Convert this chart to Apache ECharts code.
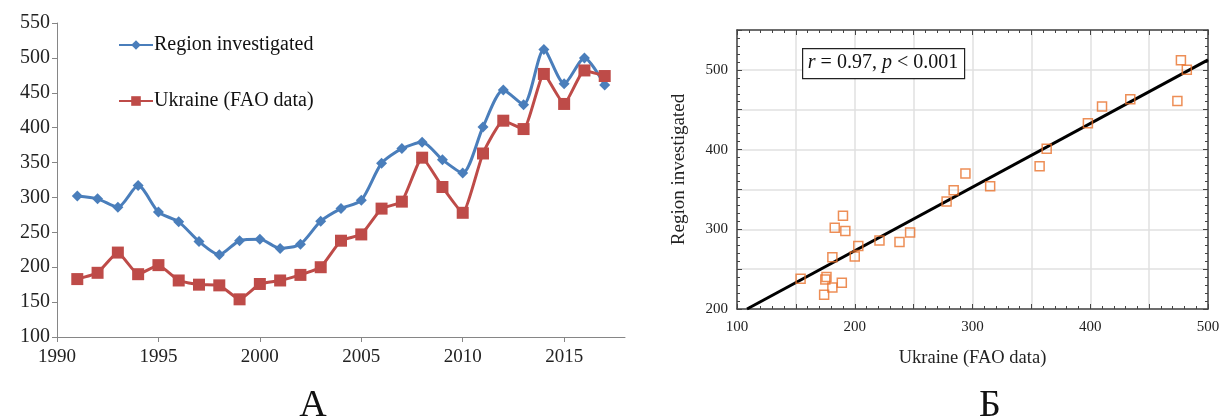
<!DOCTYPE html>
<html>
<head>
<meta charset="utf-8">
<script src="https://cdn.jsdelivr.net/npm/echarts@6/dist/echarts.min.js"></script>
<style>
  html, body { margin: 0; padding: 0; background: #fff; }
  #chart { width: 1229px; height: 419px; }
</style>
</head>
<body>
<div id="chart"></div>
<script>
// years on the left panel
const years = [1991, 1992, 1993, 1994, 1995, 1996, 1997, 1998, 1999, 2000,
  2001, 2002, 2003, 2004, 2005, 2006, 2007, 2008, 2009, 2010,
  2011, 2012, 2013, 2014, 2015, 2016, 2017];
// Region investigated
const regionVals = [302, 298, 286, 317, 279, 265, 237, 218, 238, 240,
  227, 233, 266, 284, 296, 349, 370, 379, 354, 335,
  401, 454, 433, 512, 463, 500, 461];
// Ukraine (FAO data)
const ukraineVals = [183, 192, 221, 190, 203, 181, 175, 174, 154, 176,
  181, 189, 200, 238, 247, 284, 294, 357, 315, 278,
  363, 410, 398, 477, 434, 482, 474];
const fitX = [108.5, 500];
const fitY = [200, 512.5];

const serif = '"Liberation Serif", "DejaVu Serif", serif';
const blue = '#4a7ebb';
const red = '#be4b48';

const linePairs = (xs, ys) => xs.map((x, i) => [x, ys[i]]);
const scatterPts = linePairs(ukraineVals, regionVals);

const chart = echarts.init(document.getElementById('chart'), null, { renderer: 'canvas' });

const option = {
  backgroundColor: '#fff',
  animation: false,
  legend: {
    data: ['Region investigated', 'Ukraine (FAO data)'],
    orient: 'vertical',
    left: 113,
    top: 30,
    itemWidth: 34,
    itemHeight: 12,
    itemGap: 36,
    textStyle: { fontFamily: serif, fontSize: 20, color: '#111', padding: [0, 0, 0, -4] }
  },
  grid: [
    { left: 57, right: 604, top: 23, bottom: 82 },
    { left: 737, right: 21, top: 30, bottom: 110 }
  ],
  xAxis: [
    {
      gridIndex: 0, type: 'value', min: 1990, max: 2018, interval: 5,
      axisLine: { lineStyle: { color: '#868686' } },
      axisTick: { show: true, length: 5, lineStyle: { color: '#868686' } },
      axisLabel: {
        fontFamily: serif, fontSize: 19, color: '#222', margin: 11, showMaxLabel: false,
        formatter: v => String(v)
      },
      splitLine: { show: false }
    },
    {
      gridIndex: 1, type: 'value', min: 100, max: 500, interval: 50,
      name: 'Ukraine (FAO data)', nameLocation: 'middle', nameGap: 40,
      nameTextStyle: { fontFamily: serif, fontSize: 18.5, color: '#222' },
      axisLine: { onZero: false, lineStyle: { color: '#444', width: 1.5 } },
      axisTick: { inside: true, length: 5, lineStyle: { color: '#444' } },
      minorTick: { show: true, splitNumber: 5, length: 3, lineStyle: { color: '#444' } },
      axisLabel: {
        fontFamily: serif, fontSize: 15, color: '#222', margin: 11,
        formatter: v => (v % 100 === 0 ? String(v) : '')
      },
      splitLine: { show: true, lineStyle: { color: '#e0e0e0', width: 1.5 } }
    },
    {
      gridIndex: 1, type: 'value', min: 100, max: 500, interval: 50, position: 'top',
      axisLine: { onZero: false, lineStyle: { color: '#444', width: 1.5 } },
      axisTick: { inside: true, length: 5, lineStyle: { color: '#444' } },
      minorTick: { show: true, splitNumber: 5, length: 3, lineStyle: { color: '#444' } },
      axisLabel: { show: false },
      splitLine: { show: false }
    }
  ],
  yAxis: [
    {
      gridIndex: 0, type: 'value', min: 100, max: 550, interval: 50,
      axisLine: { show: true, lineStyle: { color: '#868686' } },
      axisTick: { show: true, length: 5, lineStyle: { color: '#868686' } },
      axisLabel: { fontFamily: serif, fontSize: 20, color: '#222', margin: 7 },
      splitLine: { show: false }
    },
    {
      gridIndex: 1, type: 'value', min: 200, max: 550, interval: 50,
      name: 'Region investigated', nameLocation: 'middle', nameGap: 48,
      nameTextStyle: { fontFamily: serif, fontSize: 19, color: '#222' },
      axisLine: { show: true, onZero: false, lineStyle: { color: '#444', width: 1.5 } },
      axisTick: { inside: true, length: 5, lineStyle: { color: '#444' } },
      minorTick: { show: true, splitNumber: 5, length: 3, lineStyle: { color: '#444' } },
      axisLabel: {
        fontFamily: serif, fontSize: 15, color: '#222', margin: 9,
        formatter: v => (v % 100 === 0 ? String(v) : '')
      },
      splitLine: { show: true, lineStyle: { color: '#e0e0e0', width: 1.5 } }
    },
    {
      gridIndex: 1, type: 'value', min: 200, max: 550, interval: 50, position: 'right',
      axisLine: { show: true, onZero: false, lineStyle: { color: '#444', width: 1.5 } },
      axisTick: { inside: true, length: 5, lineStyle: { color: '#444' } },
      minorTick: { show: true, splitNumber: 5, length: 3, lineStyle: { color: '#444' } },
      axisLabel: { show: false },
      splitLine: { show: false }
    }
  ],
  series: [
    {
      name: 'Region investigated', type: 'line', xAxisIndex: 0, yAxisIndex: 0,
      data: linePairs(years, regionVals),
      smooth: 0.25,
      symbol: 'diamond', symbolSize: 11,
      itemStyle: { color: blue },
      lineStyle: { color: blue, width: 3 }
    },
    {
      name: 'Ukraine (FAO data)', type: 'line', xAxisIndex: 0, yAxisIndex: 0,
      data: linePairs(years, ukraineVals),
      smooth: 0.15,
      symbol: 'rect', symbolSize: 12,
      itemStyle: { color: red },
      lineStyle: { color: red, width: 3 }
    },
    {
      name: 'fit', type: 'line', xAxisIndex: 1, yAxisIndex: 1,
      data: linePairs(fitX, fitY),
      symbol: 'none',
      lineStyle: { color: '#000', width: 3 },
      z: 3
    },
    {
      name: 'points', type: 'scatter', xAxisIndex: 1, yAxisIndex: 1,
      data: scatterPts,
      symbol: 'rect', symbolSize: 9,
      itemStyle: { color: 'rgba(0,0,0,0)', borderColor: '#e8722c', borderWidth: 1.5 },
      z: 4
    }
  ],
  graphic: [
    {
      type: 'rect', left: 802, top: 48, z: 10,
      shape: { width: 162, height: 30 },
      style: { fill: '#fff', stroke: '#222', lineWidth: 1.2 }
    },
    {
      type: 'text', z: 11,
      style: {
        x: 883, y: 63, align: 'center', verticalAlign: 'middle',
        text: '{i|r} = 0.97, {i|p} < 0.001',
        font: '20px ' + serif,
        fill: '#111',
        rich: {
          i: { fontStyle: 'italic', fontFamily: serif, fontSize: 20, fill: '#111' }
        }
      }
    },
    {
      type: 'text',
      style: { x: 313, y: 406, align: 'center', verticalAlign: 'middle', text: 'А', font: '38px ' + serif, fill: '#111' }
    },
    {
      type: 'text',
      style: { x: 990, y: 406, align: 'center', verticalAlign: 'middle', text: 'Б', font: '38px ' + serif, fill: '#111' }
    }
  ]
};

chart.setOption(option);
</script>
</body>
</html>
